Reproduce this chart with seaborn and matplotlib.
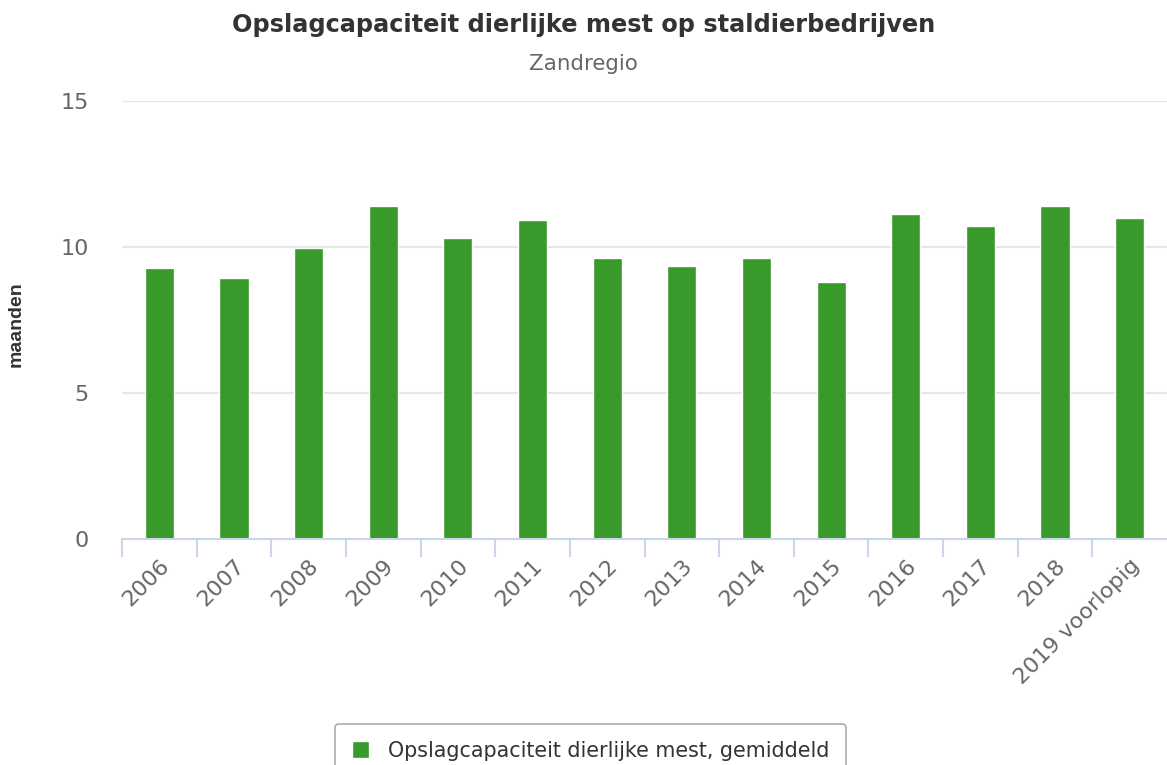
import pandas as pd
import matplotlib.pyplot as plt
import seaborn as sns
from matplotlib.patches import Patch

# --- DATA ---
years = ['2006', '2007', '2008', '2009', '2010', '2011', '2012', '2013',
         '2014', '2015', '2016', '2017', '2018', '2019 voorlopig']
maanden = [9.28, 8.93, 9.97, 11.41, 10.31, 10.94, 9.62, 9.35,
           9.62, 8.80, 11.14, 10.73, 11.41, 10.99]
series_name = 'Opslagcapaciteit dierlijke mest, gemiddeld'

df = pd.DataFrame({'jaar': years, 'maanden': maanden})

# --- STYLE ---
sns.set_style("white")
plt.rcParams['font.family'] = ['DejaVu Sans']
GREEN = '#389a2b'
GRID = '#e6e6e6'
AXIS = '#ccd6eb'
LABEL = '#666666'

fig = plt.figure(figsize=(11.67, 7.65), dpi=100)
ax = fig.add_axes([122 / 1167, 1 - 539 / 765, 1 - 122 / 1167, (539 - 101) / 765])

sns.barplot(data=df, x='jaar', y='maanden', color=GREEN, width=0.39,
            edgecolor='white', linewidth=1, saturation=1, ax=ax, zorder=3)

ax.set_xlim(-0.5, len(years) - 0.5)
ax.set_ylim(0, 15)
ax.set_yticks([0, 5, 10, 15])
ax.yaxis.grid(True, color=GRID, linewidth=1.5, zorder=0)
ax.set_axisbelow(True)

for s in ['top', 'right', 'left']:
    ax.spines[s].set_visible(False)
ax.spines['bottom'].set_color(AXIS)
ax.spines['bottom'].set_linewidth(1.5)
ax.spines['bottom'].set_zorder(4)

# y labels, and category-boundary ticks on x like the original
ax.tick_params(axis='y', length=0, pad=24, labelsize=16, labelcolor=LABEL)
ax.tick_params(axis='x', which='major', length=0, pad=12, labelsize=16, labelcolor=LABEL)
ax.set_xticks([i - 0.5 for i in range(len(years))], minor=True)
ax.tick_params(axis='x', which='minor', bottom=True, length=13, width=1.5, color=AXIS)
plt.setp(ax.get_xticklabels(), rotation=45, ha='right', rotation_mode='anchor')

ax.set_xlabel('')
ax.set_ylabel('maanden', fontsize=14, fontweight='bold', color='#333333',
              family=['Liberation Sans', 'DejaVu Sans'])
ax.yaxis.set_label_coords(-0.093, 0.49)

fig.text(0.5, 1 - 25 / 765, 'Opslagcapaciteit dierlijke mest op staldierbedrijven',
         ha='center', va='center', fontsize=17.3, fontweight='bold', color='#333333')
fig.text(0.5, 1 - 64 / 765, 'Zandregio', ha='center', va='center',
         fontsize=15.4, color=LABEL)

leg = fig.legend(handles=[Patch(facecolor=GREEN, label=series_name)],
                 loc='upper center', bbox_to_anchor=(0.506, 1 - 714 / 765),
                 frameon=True, fontsize=14.9, handlelength=0.85, handleheight=0.85,
                 handletextpad=0.9, borderpad=0.8, labelcolor='#333333', fancybox=True)
leg.get_frame().set_edgecolor('#999999')
leg.get_frame().set_linewidth(1.2)

fig.savefig('out.png', dpi=100)
